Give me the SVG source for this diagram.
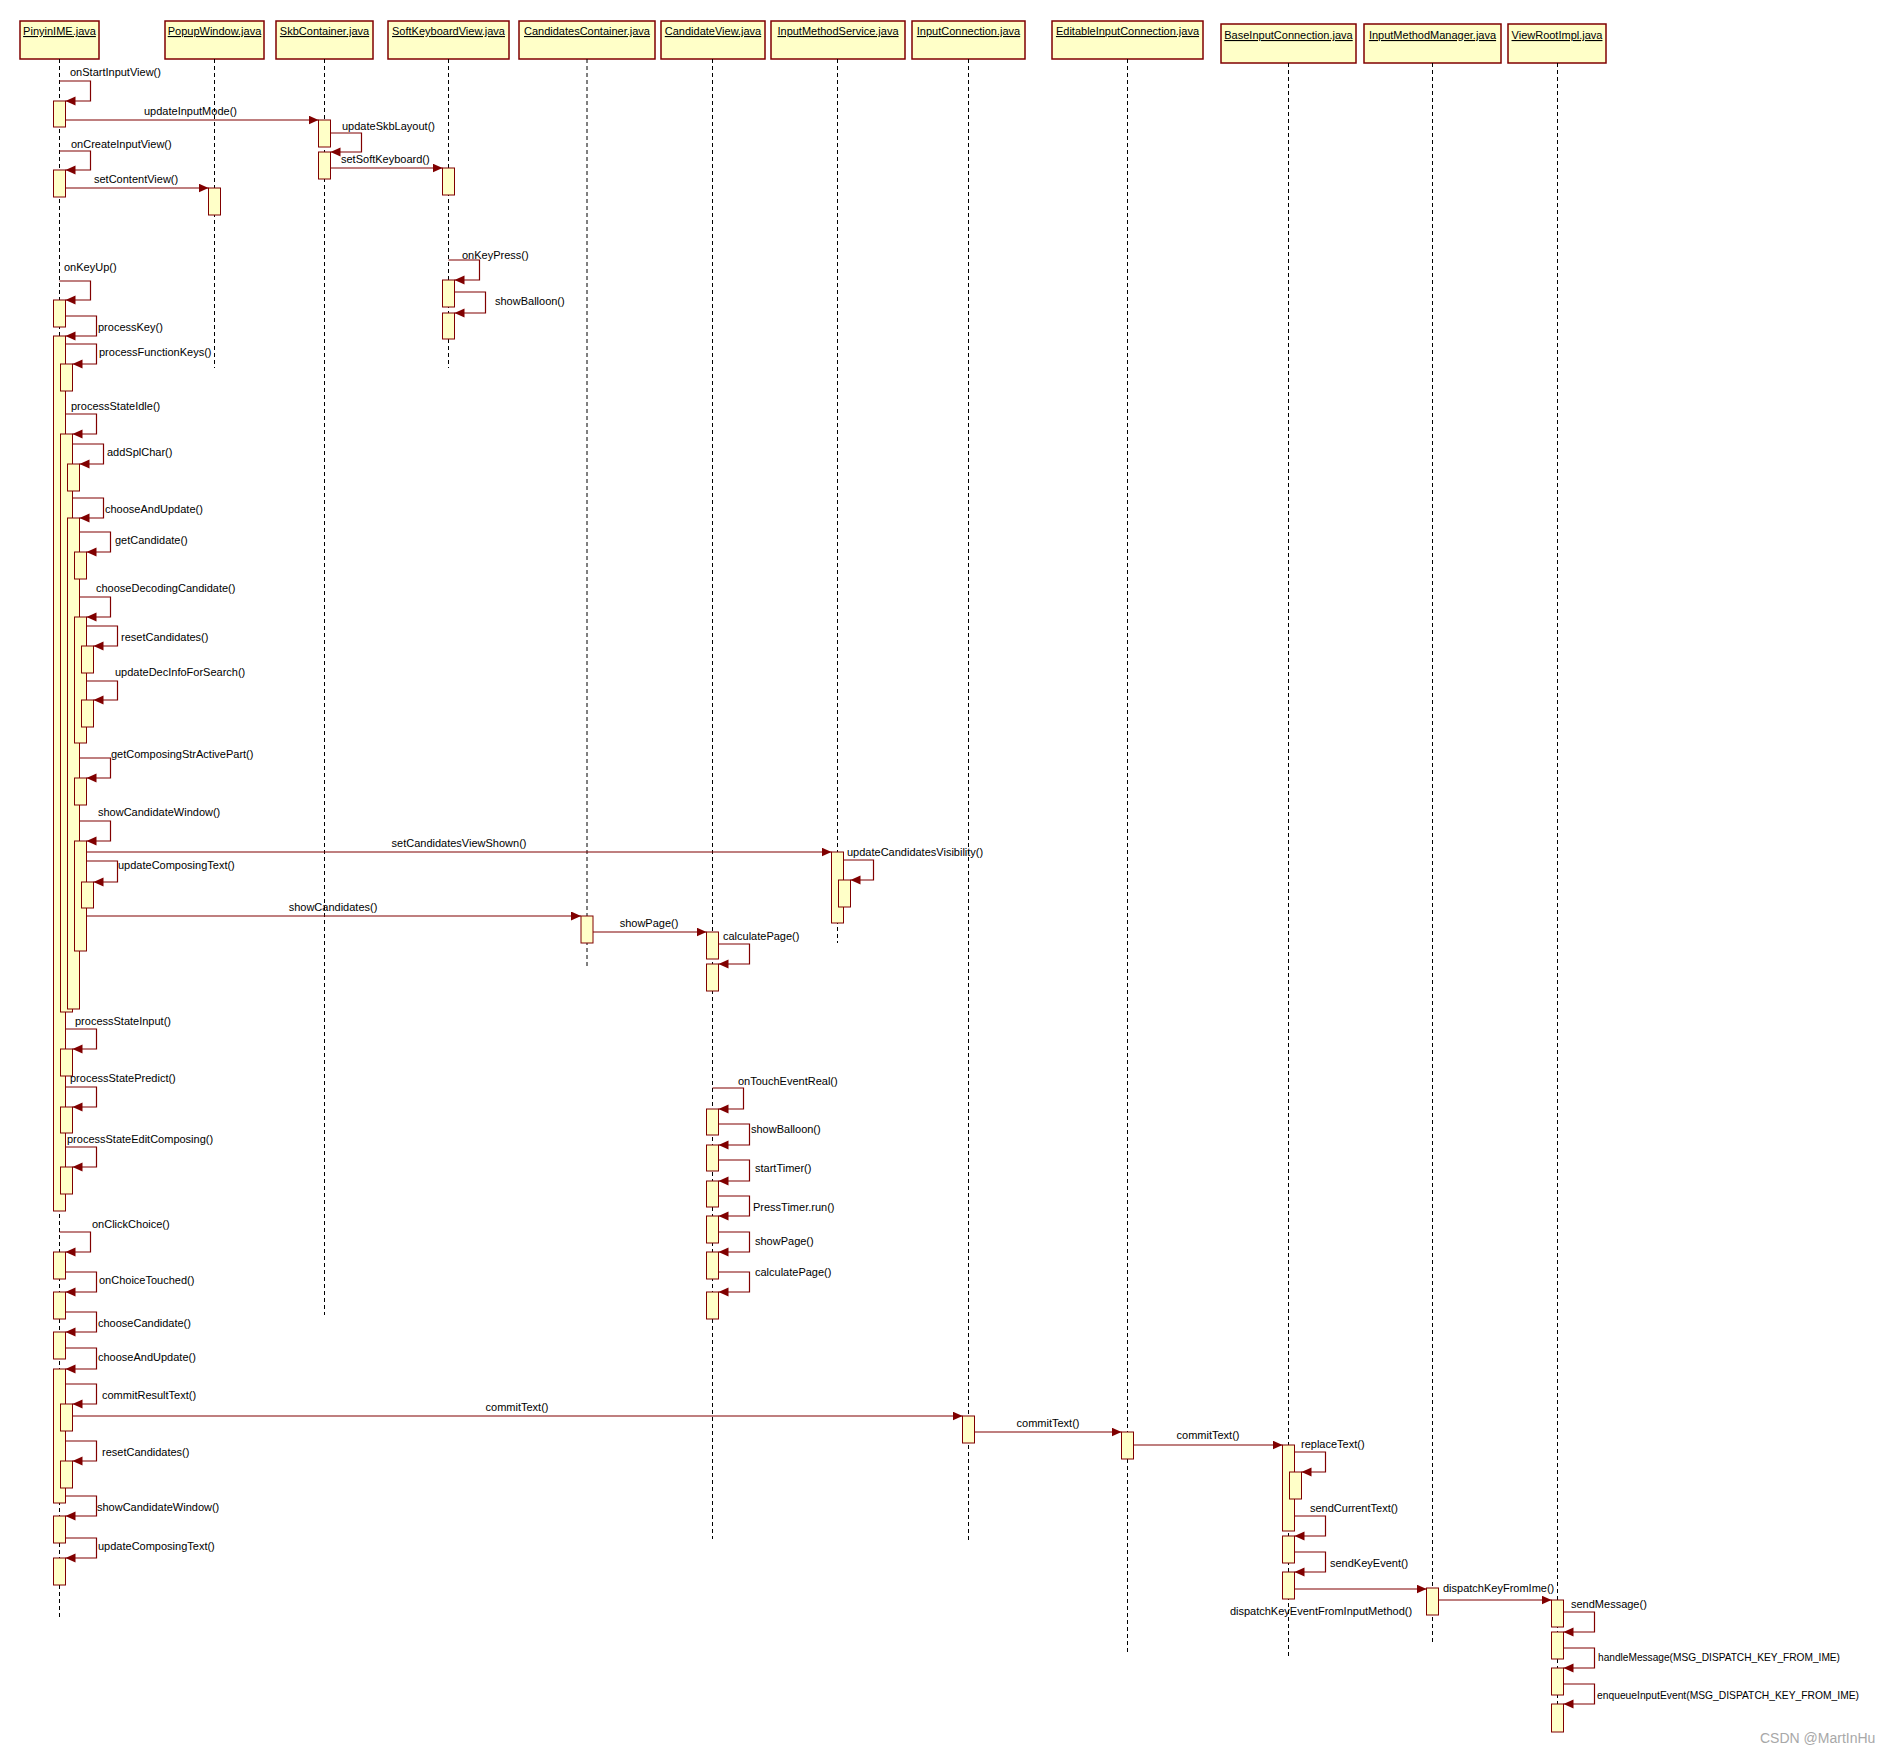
<svg xmlns="http://www.w3.org/2000/svg" width="1881" height="1752" viewBox="0 0 1881 1752">
<style>
.hdr{fill:#ffffc8;stroke:#800000;stroke-width:1.5}
.act{fill:#ffffc8;stroke:#800000;stroke-width:1}
.life{stroke:#000;stroke-width:1;stroke-dasharray:4 3;fill:none}
.msg{fill:none;stroke:#800000;stroke-width:1.2;marker-end:url(#ah)}
text{font-family:"Liberation Sans",Arial,sans-serif;font-size:11px;fill:#000}
.ht{text-decoration:underline;text-anchor:middle}
.mid{text-anchor:middle}
.wm{font-size:14px;fill:#a8a8a8}
</style>
<defs>
<marker id="ah" markerUnits="userSpaceOnUse" markerWidth="11" markerHeight="10" refX="10" refY="4.5" orient="auto">
<path d="M0,0 L10,4.5 L0,9 z" fill="#800000"/>
</marker>
</defs>
<rect width="1881" height="1752" fill="#fff"/>

<g id="n-pinyinime">
<rect class="hdr" x="20" y="21" width="79" height="38"/>
<text class="ht" x="59.5" y="35">PinyinIME.java</text>
<line class="life" x1="59.5" y1="59" x2="59.5" y2="1617"/>
<rect class="act" x="53.5" y="101" width="12" height="26"/>
<rect class="act" x="53.5" y="170" width="12" height="27"/>
<rect class="act" x="53.5" y="300" width="12" height="27"/>
<rect class="act" x="53.5" y="336" width="12" height="875"/>
<rect class="act" x="60.5" y="364" width="12" height="27"/>
<rect class="act" x="60.5" y="434" width="12" height="578"/>
<rect class="act" x="67.5" y="464" width="12" height="27"/>
<rect class="act" x="67.5" y="518" width="12" height="491"/>
<rect class="act" x="74.5" y="552" width="12" height="27"/>
<rect class="act" x="74.5" y="617" width="12" height="126"/>
<rect class="act" x="81.5" y="646" width="12" height="27"/>
<rect class="act" x="81.5" y="700" width="12" height="27"/>
<rect class="act" x="74.5" y="778" width="12" height="27"/>
<rect class="act" x="74.5" y="841" width="12" height="110"/>
<rect class="act" x="81.5" y="882" width="12" height="26"/>
<rect class="act" x="60.5" y="1049" width="12" height="27"/>
<rect class="act" x="60.5" y="1107" width="12" height="26"/>
<rect class="act" x="60.5" y="1167" width="12" height="27"/>
<rect class="act" x="53.5" y="1252" width="12" height="27"/>
<rect class="act" x="53.5" y="1292" width="12" height="27"/>
<rect class="act" x="53.5" y="1332" width="12" height="27"/>
<rect class="act" x="53.5" y="1369" width="12" height="134"/>
<rect class="act" x="60.5" y="1404" width="12" height="27"/>
<rect class="act" x="60.5" y="1461" width="12" height="27"/>
<rect class="act" x="53.5" y="1516" width="12" height="27"/>
<rect class="act" x="53.5" y="1558" width="12" height="27"/>
</g>

<g id="n-popupwindow">
<rect class="hdr" x="165" y="21" width="99" height="38"/>
<text class="ht" x="214.5" y="35">PopupWindow.java</text>
<line class="life" x1="214.5" y1="59" x2="214.5" y2="368"/>
<rect class="act" x="208.5" y="188" width="12" height="27"/>
</g>

<g id="n-skbcontainer">
<rect class="hdr" x="276" y="21" width="97" height="38"/>
<text class="ht" x="324.5" y="35">SkbContainer.java</text>
<line class="life" x1="324.5" y1="59" x2="324.5" y2="1315"/>
<rect class="act" x="318.5" y="120" width="12" height="27"/>
<rect class="act" x="318.5" y="152" width="12" height="27"/>
</g>

<g id="n-softkeyboardview">
<rect class="hdr" x="388" y="21" width="121" height="38"/>
<text class="ht" x="448.5" y="35">SoftKeyboardView.java</text>
<line class="life" x1="448.5" y1="59" x2="448.5" y2="368"/>
<rect class="act" x="442.5" y="168" width="12" height="27"/>
<rect class="act" x="442.5" y="280" width="12" height="27"/>
<rect class="act" x="442.5" y="313" width="12" height="26"/>
</g>

<g id="n-candidatescontainer">
<rect class="hdr" x="519" y="21" width="136" height="38"/>
<text class="ht" x="587" y="35">CandidatesContainer.java</text>
<line class="life" x1="587" y1="59" x2="587" y2="968"/>
<rect class="act" x="581" y="916" width="12" height="27"/>
</g>

<g id="n-candidateview">
<rect class="hdr" x="661" y="21" width="104" height="38"/>
<text class="ht" x="713" y="35">CandidateView.java</text>
<line class="life" x1="712.5" y1="59" x2="712.5" y2="1539"/>
<rect class="act" x="706.5" y="932" width="12" height="27"/>
<rect class="act" x="706.5" y="964" width="12" height="27"/>
<rect class="act" x="706.5" y="1109" width="12" height="26"/>
<rect class="act" x="706.5" y="1145" width="12" height="26"/>
<rect class="act" x="706.5" y="1181" width="12" height="26"/>
<rect class="act" x="706.5" y="1216" width="12" height="27"/>
<rect class="act" x="706.5" y="1252" width="12" height="27"/>
<rect class="act" x="706.5" y="1292" width="12" height="27"/>
</g>

<g id="n-inputmethodservice">
<rect class="hdr" x="771" y="21" width="134" height="38"/>
<text class="ht" x="838" y="35">InputMethodService.java</text>
<line class="life" x1="837.5" y1="59" x2="837.5" y2="943"/>
<rect class="act" x="831.5" y="852" width="12" height="71"/>
<rect class="act" x="838.5" y="880" width="12" height="27"/>
</g>

<g id="n-inputconnection">
<rect class="hdr" x="912" y="21" width="113" height="38"/>
<text class="ht" x="968.5" y="35">InputConnection.java</text>
<line class="life" x1="968.5" y1="59" x2="968.5" y2="1540"/>
<rect class="act" x="962.5" y="1416" width="12" height="27"/>
</g>

<g id="n-editableinputconnection">
<rect class="hdr" x="1052" y="21" width="151" height="38"/>
<text class="ht" x="1127.5" y="35">EditableInputConnection.java</text>
<line class="life" x1="1127.5" y1="59" x2="1127.5" y2="1652"/>
<rect class="act" x="1121.5" y="1432" width="12" height="27"/>
</g>

<g id="n-baseinputconnection">
<rect class="hdr" x="1221" y="24" width="135" height="39"/>
<text class="ht" x="1288.5" y="39">BaseInputConnection.java</text>
<line class="life" x1="1288.5" y1="63" x2="1288.5" y2="1656"/>
<rect class="act" x="1282.5" y="1445" width="12" height="86"/>
<rect class="act" x="1289.5" y="1472" width="12" height="27"/>
<rect class="act" x="1282.5" y="1536" width="12" height="27"/>
<rect class="act" x="1282.5" y="1572" width="12" height="27"/>
</g>

<g id="n-inputmethodmanager">
<rect class="hdr" x="1364" y="24" width="137" height="39"/>
<text class="ht" x="1432.5" y="39">InputMethodManager.java</text>
<line class="life" x1="1432.5" y1="63" x2="1432.5" y2="1644"/>
<rect class="act" x="1426.5" y="1588" width="12" height="27"/>
</g>

<g id="n-viewrootimpl">
<rect class="hdr" x="1508" y="24" width="98" height="39"/>
<text class="ht" x="1557" y="39">ViewRootImpl.java</text>
<line class="life" x1="1557.5" y1="63" x2="1557.5" y2="1704"/>
<rect class="act" x="1551.5" y="1600" width="12" height="27"/>
<rect class="act" x="1551.5" y="1632" width="12" height="27"/>
<rect class="act" x="1551.5" y="1668" width="12" height="27"/>
<rect class="act" x="1551.5" y="1704" width="12" height="28"/>
</g>

<g id="connectors">
<path class="msg" d="M65.5,120 H318.5"/>
<path class="msg" d="M330.5,168 H442.5"/>
<path class="msg" d="M65.5,188 H208.5"/>
<path class="msg" d="M86.5,852 H831.5"/>
<path class="msg" d="M86.5,916 H581"/>
<path class="msg" d="M593,932 H706.5"/>
<path class="msg" d="M72.5,1416 H962.5"/>
<path class="msg" d="M974.5,1432 H1121.5"/>
<path class="msg" d="M1133.5,1445 H1282.5"/>
<path class="msg" d="M1294.5,1589 H1426.5"/>
<path class="msg" d="M1438.5,1600 H1551.5"/>

<path class="msg" d="M59.5,81 H90.5 V101 H65.5"/>
<path class="msg" d="M330.5,133 H361.5 V152 H330.5"/>
<path class="msg" d="M59.5,151 H90.5 V170 H65.5"/>
<path class="msg" d="M59.5,281 H90.5 V300 H65.5"/>
<path class="msg" d="M65.5,316 H96.5 V336 H65.5"/>
<path class="msg" d="M65.5,344 H96.5 V364 H72.5"/>
<path class="msg" d="M448.5,260 H479.5 V280 H454.5"/>
<path class="msg" d="M454.5,292 H485.5 V313 H454.5"/>
<path class="msg" d="M65.5,414 H96.5 V434 H72.5"/>
<path class="msg" d="M72.5,444 H103.5 V464 H79.5"/>
<path class="msg" d="M72.5,498 H103.5 V518 H79.5"/>
<path class="msg" d="M79.5,532 H110.5 V552 H86.5"/>
<path class="msg" d="M79.5,597 H110.5 V617 H86.5"/>
<path class="msg" d="M86.5,626 H117.5 V646 H93.5"/>
<path class="msg" d="M86.5,681 H117.5 V700 H93.5"/>
<path class="msg" d="M79.5,758 H110.5 V778 H86.5"/>
<path class="msg" d="M79.5,821 H110.5 V841 H86.5"/>
<path class="msg" d="M843.5,860 H873.5 V880 H850.5"/>
<path class="msg" d="M86.5,861 H117.5 V882 H93.5"/>
<path class="msg" d="M718.5,944 H749.5 V964 H718.5"/>
<path class="msg" d="M65.5,1029 H96.5 V1049 H72.5"/>
<path class="msg" d="M65.5,1087 H96.5 V1107 H72.5"/>
<path class="msg" d="M65.5,1147 H96.5 V1167 H72.5"/>
<path class="msg" d="M712.5,1088 H743.5 V1109 H718.5"/>
<path class="msg" d="M718.5,1124 H749.5 V1145 H718.5"/>
<path class="msg" d="M718.5,1160 H749.5 V1181 H718.5"/>
<path class="msg" d="M718.5,1196 H749.5 V1216 H718.5"/>
<path class="msg" d="M718.5,1232 H749.5 V1252 H718.5"/>
<path class="msg" d="M718.5,1272 H749.5 V1292 H718.5"/>
<path class="msg" d="M59.5,1232 H90.5 V1252 H65.5"/>
<path class="msg" d="M65.5,1272 H96.5 V1292 H65.5"/>
<path class="msg" d="M65.5,1312 H96.5 V1332 H65.5"/>
<path class="msg" d="M65.5,1348 H96.5 V1369 H65.5"/>
<path class="msg" d="M65.5,1384 H96.5 V1404 H72.5"/>
<path class="msg" d="M65.5,1441 H96.5 V1461 H72.5"/>
<path class="msg" d="M65.5,1496 H96.5 V1516 H65.5"/>
<path class="msg" d="M65.5,1538 H96.5 V1558 H65.5"/>
<path class="msg" d="M1294.5,1452 H1325.5 V1472 H1301.5"/>
<path class="msg" d="M1294.5,1516 H1325.5 V1536 H1294.5"/>
<path class="msg" d="M1294.5,1552 H1325.5 V1572 H1294.5"/>
<path class="msg" d="M1563.5,1612 H1594.5 V1632 H1563.5"/>
<path class="msg" d="M1563.5,1648 H1594.5 V1668 H1563.5"/>
<path class="msg" d="M1563.5,1684 H1594.5 V1704 H1563.5"/>

<g id="labels">
<text x="144" y="115">updateInputMode()</text>
<text x="341" y="163">setSoftKeyboard()</text>
<text x="94" y="183">setContentView()</text>
<text class="mid" x="459" y="847">setCandidatesViewShown()</text>
<text class="mid" x="333" y="911">showCandidates()</text>
<text class="mid" x="649" y="927">showPage()</text>
<text class="mid" x="517" y="1411">commitText()</text>
<text class="mid" x="1048" y="1427">commitText()</text>
<text class="mid" x="1208" y="1439">commitText()</text>
<text class="mid" x="1321" y="1615">dispatchKeyEventFromInputMethod()</text>
<text x="1443" y="1592">dispatchKeyFromIme()</text>

<text x="70" y="76">onStartInputView()</text>
<text x="342" y="130">updateSkbLayout()</text>
<text x="71" y="148">onCreateInputView()</text>
<text x="64" y="271">onKeyUp()</text>
<text x="98" y="331">processKey()</text>
<text x="99" y="356">processFunctionKeys()</text>
<text x="462" y="259">onKeyPress()</text>
<text x="495" y="305">showBalloon()</text>
<text x="71" y="410">processStateIdle()</text>
<text x="107" y="456">addSplChar()</text>
<text x="105" y="513">chooseAndUpdate()</text>
<text x="115" y="544">getCandidate()</text>
<text x="96" y="592">chooseDecodingCandidate()</text>
<text x="121" y="641">resetCandidates()</text>
<text x="115" y="676">updateDecInfoForSearch()</text>
<text x="111" y="758">getComposingStrActivePart()</text>
<text x="98" y="816">showCandidateWindow()</text>
<text x="847" y="856">updateCandidatesVisibility()</text>
<text x="118" y="869">updateComposingText()</text>
<text x="723" y="940">calculatePage()</text>
<text x="75" y="1025">processStateInput()</text>
<text x="70" y="1082">processStatePredict()</text>
<text x="67" y="1143">processStateEditComposing()</text>
<text x="738" y="1085">onTouchEventReal()</text>
<text x="751" y="1133">showBalloon()</text>
<text x="755" y="1172">startTimer()</text>
<text x="753" y="1211">PressTimer.run()</text>
<text x="755" y="1245">showPage()</text>
<text x="755" y="1276">calculatePage()</text>
<text x="92" y="1228">onClickChoice()</text>
<text x="99" y="1284">onChoiceTouched()</text>
<text x="98" y="1327">chooseCandidate()</text>
<text x="98" y="1361">chooseAndUpdate()</text>
<text x="102" y="1399">commitResultText()</text>
<text x="102" y="1456">resetCandidates()</text>
<text x="97" y="1511">showCandidateWindow()</text>
<text x="98" y="1550">updateComposingText()</text>
<text x="1301" y="1448">replaceText()</text>
<text x="1310" y="1512">sendCurrentText()</text>
<text x="1330" y="1567">sendKeyEvent()</text>
<text x="1571" y="1608">sendMessage()</text>
<text x="1598" y="1661" textLength="242" lengthAdjust="spacingAndGlyphs">handleMessage(MSG_DISPATCH_KEY_FROM_IME)</text>
<text x="1597" y="1699" textLength="262" lengthAdjust="spacingAndGlyphs">enqueueInputEvent(MSG_DISPATCH_KEY_FROM_IME)</text>
</g>
</g>

<text class="wm" x="1760" y="1743">CSDN @MartInHu</text>
</svg>
